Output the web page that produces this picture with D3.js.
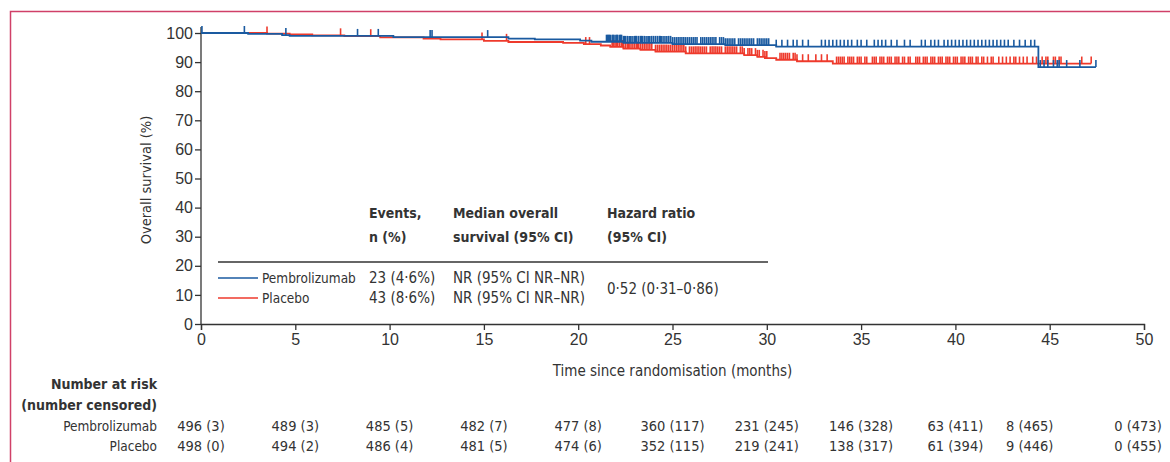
<!DOCTYPE html>
<html>
<head>
<meta charset="utf-8">
<script src="https://cdn.jsdelivr.net/npm/d3@7"></script>
<style>
  body { margin: 0; background: #fff; }
  svg { display: block; font-family: "Liberation Sans Narrow", "Arial Narrow", "DejaVu Sans Condensed", sans-serif; }
  text { fill: #333; }
</style>
</head>
<body>
<script>
// x ticks (months) and y ticks (%)
var months = [0, 5, 10, 15, 20, 25, 30, 35, 40, 45, 50];
var survTicks = [0, 10, 20, 30, 40, 50, 60, 70, 80, 90, 100];

// Kaplan-Meier steps
var pembroTimes = [0, 2.5, 4.3, 4.7, 10.2, 16.3, 17.7, 20.1, 20.7, 22.4, 25.0, 27.8, 30.5, 44.4, 47.45];
var pembroSurv  = [100, 99.7, 99.3, 99.0, 98.6, 98.1, 97.8, 97.4, 97.0, 96.6, 96.2, 95.8, 95.3, 88.3, 88.3];

var placeboTimes = [0, 3.5, 4.7, 5.9, 7.6, 9.5, 11.8, 12.7, 15.0, 16.3, 19.2, 20.3, 21.2, 21.7, 22.4, 23.3, 24.1, 25.7, 28.8, 29.5, 29.9, 30.5, 31.6, 33.5, 47.2];
var placeboSurv  = [100, 99.8, 99.5, 99.2, 98.9, 98.5, 98.1, 97.8, 97.3, 96.9, 96.6, 96.2, 95.7, 95.2, 94.6, 94.2, 93.6, 93.0, 92.4, 91.8, 91.4, 90.8, 90.3, 89.5, 89.5];

// censoring times (months)
var pembroCensor = [0.05, 2.3, 4.5, 8.3, 9.4, 12.15, 12.25, 15.2,
  21.5, 21.55, 21.6, 21.65, 21.7, 21.8, 21.85, 21.9, 22.0, 22.05, 22.1, 22.2, 22.25, 22.3, 22.4, 22.45, 22.5, 22.6,
  22.7, 22.75, 22.8, 22.9, 23.0, 23.05, 23.1, 23.2, 23.3, 23.35, 23.4, 23.5, 23.6, 23.7, 23.75, 23.8, 23.9,
  24.0, 24.1, 24.2, 24.3, 24.35, 24.4, 24.5, 24.6, 24.7, 24.8, 24.9, 25.0, 25.1, 25.2, 25.3, 25.4, 25.5, 25.6, 25.7,
  25.8, 25.9, 26.0, 26.1, 26.2, 26.3, 26.5, 26.6, 26.7, 26.8, 26.9, 27.0, 27.1, 27.2, 27.3,
  27.5, 27.6, 27.7, 27.8, 27.9, 28.0, 28.1, 28.2, 28.3, 28.5, 28.6, 28.7, 28.8, 28.9, 29.0, 29.1, 29.2, 29.3,
  29.5, 29.6, 29.7, 29.8, 29.9, 30.0, 30.1,
  30.5, 30.8, 31.1, 31.4, 31.6, 31.9, 32.2,
  32.9, 33.1, 33.3, 33.5, 33.7, 33.9, 34.1, 34.3, 34.5, 34.8, 35.0, 35.3,
  35.7, 35.9, 36.1, 36.3, 36.6, 36.9, 37.3, 37.6, 38.2, 38.4, 38.7, 38.9, 39.1,
  39.4, 39.6, 39.8, 40.0, 40.2, 40.4, 40.6, 40.8, 41.0, 41.2,
  41.4, 41.6, 41.8, 42.0, 42.2, 42.4, 42.6, 42.8, 43.1, 43.4, 43.7, 44.0, 44.2,
  44.5, 44.7, 44.9, 45.2, 45.4, 45.5, 45.9, 46.6, 47.45];

var placeboCensor = [3.5, 7.4, 9.0, 14.9, 16.2, 20.4, 20.6,
  21.8, 21.85, 21.9, 22.0, 22.05, 22.1, 22.2, 22.3, 22.35, 22.4, 22.5, 22.6, 22.65, 22.7, 22.8, 22.9,
  23.0, 23.1, 23.15, 23.2, 23.3, 23.4, 23.5, 23.6, 23.7, 23.8, 23.9,
  24.1, 24.2, 24.3, 24.4, 24.5, 24.6, 24.7, 24.8, 24.9, 25.0, 25.1, 25.2, 25.3, 25.4, 25.5, 25.6, 25.7,
  25.9, 26.0, 26.1, 26.2, 26.3, 26.4, 26.5, 26.6, 26.7, 26.8, 27.0, 27.1, 27.2, 27.3, 27.4, 27.5, 27.6,
  27.8, 27.9, 28.0, 28.1, 28.2, 28.3, 28.4, 28.6, 28.7, 28.8,
  29.0, 29.1, 29.2, 29.4, 29.5, 29.6, 29.8, 29.9, 30.0,
  30.7, 30.8, 30.9, 31.0, 31.1, 31.2, 31.4, 31.5, 31.6, 31.9, 32.2, 32.6, 32.9, 33.2,
  33.7, 33.8, 33.9, 34.0, 34.1, 34.3, 34.4, 34.5, 34.6, 34.8, 34.9, 35.0, 35.2, 35.3,
  35.6, 35.7, 35.8, 36.0, 36.1, 36.2, 36.4, 36.5, 36.6, 36.8, 36.9, 37.0, 37.2, 37.3, 37.5, 37.6,
  37.9, 38.0, 38.1, 38.3, 38.4, 38.5, 38.7, 38.8, 38.9, 39.1, 39.2, 39.3, 39.5, 39.6, 39.7, 39.9,
  40.0, 40.1, 40.3, 40.4, 40.5, 40.7, 40.8, 40.9, 41.1, 41.2, 41.4, 41.5, 41.7, 41.9,
  42.0, 42.3, 42.5, 42.7, 42.9, 43.1, 43.2, 43.4, 43.6, 43.8, 44.1, 44.3,
  44.6, 44.8, 44.9, 45.2, 45.3, 45.5, 45.6, 46.7, 47.2];

// number at risk (number censored)
var riskPembro  = ["496 (3)", "489 (3)", "485 (5)", "482 (7)", "477 (8)", "360 (117)", "231 (245)", "146 (328)", "63 (411)", "8 (465)", "0 (473)"];
var riskPlacebo = ["498 (0)", "494 (2)", "486 (4)", "481 (5)", "474 (6)", "352 (115)", "219 (241)", "138 (317)", "61 (394)", "9 (446)", "0 (455)"];

var blue = "#1a5aa0", red = "#ee3a2c";
var width = 1170, height = 462;

var svg = d3.select("body").append("svg")
  .attr("width", width)
  .attr("height", height);

// frame (top + left edges)
svg.append("path")
  .attr("d", "M10.5,462 V11.5 H1170")
  .attr("fill", "none")
  .attr("stroke", "#d04068")
  .attr("stroke-width", 1.5);

var x = d3.scaleLinear().domain([0, 50]).range([201, 1144]);
var y = d3.scaleLinear().domain([0, 100]).range([324, 33]);

var xAxis = d3.axisBottom(x).tickValues(months).tickSize(6).tickPadding(4);
var yAxis = d3.axisLeft(y).tickValues(survTicks).tickSize(6).tickSizeOuter(0).tickPadding(2);

var gx = svg.append("g").attr("transform", "translate(0,324)").call(xAxis);
var gy = svg.append("g").attr("transform", "translate(201,0)").call(yAxis);
[gx, gy].forEach(function(g) {
  g.selectAll("path, line").attr("stroke", "#333").attr("stroke-width", 1.3);
  g.selectAll("text").attr("font-size", 16).attr("fill", "#333").attr("font-family", null);
});
gy.select(".domain").attr("d", "M0,324V27");

svg.append("text")
  .attr("transform", "translate(151,180) rotate(-90)")
  .attr("text-anchor", "middle")
  .attr("font-size", 14.5)
  .text("Overall survival (%)");

svg.append("text")
  .attr("x", x(25)).attr("y", 376)
  .attr("text-anchor", "middle")
  .attr("font-size", 15)
  .text("Time since randomisation (months)");

// curves
function stepAt(times, surv, t) {
  var i = d3.bisectRight(times, t) - 1;
  return surv[Math.max(0, i)];
}

var line = d3.line()
  .x(function(d) { return x(d[0]); })
  .y(function(d) { return y(d[1]); })
  .curve(d3.curveStepAfter);

function drawArm(times, surv, censor, colour) {
  svg.append("path")
    .datum(d3.zip(times, surv))
    .attr("d", line)
    .attr("fill", "none")
    .attr("stroke", colour)
    .attr("stroke-width", 1.8);
  svg.append("g").selectAll("line")
    .data(censor)
    .enter()
    .append("line")
    .attr("x1", function(d) { return x(d); })
    .attr("x2", function(d) { return x(d); })
    .attr("y1", function(d) { return y(stepAt(times, surv, d)); })
    .attr("y2", function(d) { return y(stepAt(times, surv, d)) - 7; })
    .attr("stroke", colour)
    .attr("stroke-width", 1.6);
}
drawArm(placeboTimes, placeboSurv, placeboCensor, red);
drawArm(pembroTimes, pembroSurv, pembroCensor, blue);

// inset table
var tbl = svg.append("g").attr("font-size", 15);
var heads = [[369, "Events,", "n (%)"], [453, "Median overall", "survival (95% CI)"], [607, "Hazard ratio", "(95% CI)"]];
heads.forEach(function(h) {
  tbl.append("text").attr("x", h[0]).attr("y", 218).attr("font-weight", "bold").attr("font-size", 14).text(h[1]);
  tbl.append("text").attr("x", h[0]).attr("y", 242).attr("font-weight", "bold").attr("font-size", 14).text(h[2]);
});
tbl.append("line")
  .attr("x1", 218).attr("x2", 768).attr("y1", 262).attr("y2", 262)
  .attr("stroke", "#666").attr("stroke-width", 2);

var rows = [["Pembrolizumab", "23 (4·6%)", "NR (95% CI NR–NR)", blue, 283],
            ["Placebo", "43 (8·6%)", "NR (95% CI NR–NR)", red, 303]];
rows.forEach(function(r) {
  tbl.append("line").attr("x1", 218).attr("x2", 258).attr("y1", r[4] - 5).attr("y2", r[4] - 5)
    .attr("stroke", r[3]).attr("stroke-width", 1.5);
  tbl.append("text").attr("x", 262).attr("y", r[4]).attr("font-size", 13.5).text(r[0]);
  tbl.append("text").attr("x", 369).attr("y", r[4]).text(r[1]);
  tbl.append("text").attr("x", 453).attr("y", r[4]).text(r[2]);
});
tbl.append("text").attr("x", 607).attr("y", 294).text("0·52 (0·31–0·86)");

// number at risk
var risk = svg.append("g").attr("font-size", 14.5);
risk.append("text").attr("x", 157).attr("y", 389).attr("text-anchor", "end").attr("font-weight", "bold").attr("font-size", 14).text("Number at risk");
risk.append("text").attr("x", 157).attr("y", 410).attr("text-anchor", "end").attr("font-weight", "bold").attr("font-size", 14).text("(number censored)");
risk.append("text").attr("x", 157).attr("y", 431).attr("text-anchor", "end").attr("font-size", 13.5).text("Pembrolizumab");
risk.append("text").attr("x", 157).attr("y", 451).attr("text-anchor", "end").attr("font-size", 13.5).text("Placebo");

[[riskPembro, 431], [riskPlacebo, 451]].forEach(function(r) {
  risk.append("g").selectAll("text")
    .data(r[0])
    .enter()
    .append("text")
    // the last two columns sit a little left of their ticks in the original
    .attr("x", function(d, i) { return x(months[i]) - (months[i] === 45 ? 20 : months[i] === 50 ? 6 : 0); })
    .attr("y", r[1])
    .attr("text-anchor", "middle")
    .text(function(d) { return d; });
});
</script>
</body>
</html>
